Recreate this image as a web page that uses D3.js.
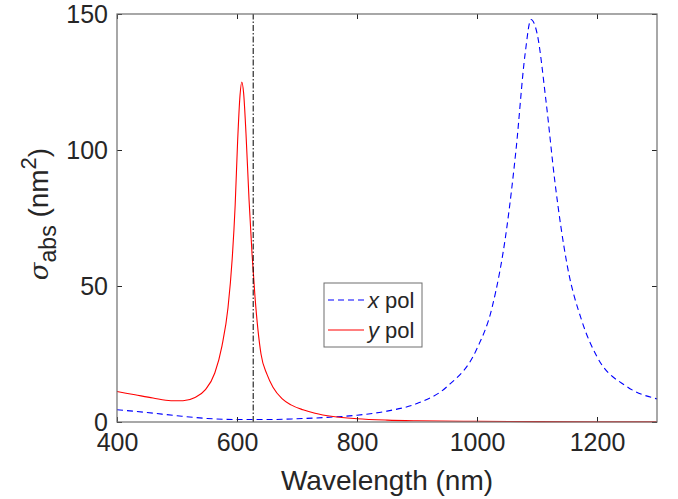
<!DOCTYPE html>
<html>
<head>
<meta charset="utf-8">
<script src="https://cdn.jsdelivr.net/npm/d3@7"></script>
<style>
  body { margin: 0; background: #fff; }
  text { font-family: "Liberation Sans", Arial, sans-serif; fill: #262626; }
</style>
</head>
<body>
<div id="chart"></div>
<script>
// données
const wavelengthX = [400, 450, 500, 550, 600, 650, 700, 750, 800, 850, 900, 950, 1000, 1025, 1050, 1065, 1080, 1090, 1100, 1115, 1130, 1150, 1175, 1200, 1250, 1300];
const xPol = [4.5, 3.5, 2.3, 1.3, 0.9, 0.9, 1.2, 1.7, 2.5, 4.0, 6.8, 13, 27, 42, 72, 100, 135, 148, 143, 118, 88, 58, 37, 24, 13, 8.5];

const wavelengthY = [400, 430, 460, 490, 510, 530, 547, 563, 575, 585, 592, 597, 601, 605, 608, 611, 615, 620, 625, 630, 640, 650, 660, 675, 690, 710, 730, 760, 800, 850, 900, 1000, 1100, 1200, 1300];
const yPol = [11.2, 10.0, 8.8, 7.8, 7.8, 9.0, 11.8, 18, 28, 42, 60, 80, 103, 120, 125, 121, 106, 82, 62, 46, 25, 17.5, 12.8, 8.6, 6.3, 4.5, 3.2, 2.0, 1.2, 0.7, 0.45, 0.25, 0.15, 0.1, 0.07];

const markerWavelength = 627;
const xTicks = [400, 600, 800, 1000, 1200];
const yTicks = [0, 50, 100, 150];

const width = 678;
const height = 499;
const margin = { top: 14, right: 21, bottom: 77, left: 117 };

const svg = d3.select("#chart")
    .append("svg")
    .attr("width", width)
    .attr("height", height);

const x = d3.scaleLinear()
    .domain([400, 1300])
    .range([margin.left, width - margin.right]);

const y = d3.scaleLinear()
    .domain([0, 150])
    .range([height - margin.bottom, margin.top]);

// courbes
const line = d3.line()
    .x(d => x(d[0]))
    .y(d => y(d[1]))
    .curve(d3.curveMonotoneX);

svg.append("path")
    .datum(wavelengthX.map((w, i) => [w, xPol[i]]))
    .attr("d", line)
    .attr("fill", "none")
    .attr("stroke", "#0000ff")
    .attr("stroke-width", 1.1)
    .attr("stroke-dasharray", "6,4");

svg.append("path")
    .datum(wavelengthY.map((w, i) => [w, yPol[i]]))
    .attr("d", line)
    .attr("fill", "none")
    .attr("stroke", "#ff0000")
    .attr("stroke-width", 1.1);

// ligne verticale pointillée
svg.append("line")
    .attr("x1", x(markerWavelength))
    .attr("x2", x(markerWavelength))
    .attr("y1", y(0))
    .attr("y2", y(150))
    .attr("stroke", "#000")
    .attr("stroke-width", 1)
    .attr("stroke-dasharray", "6,2,1.5,2");

// axes (style boîte)
const tickSize = 5;
const axisColor = "#262626";
const fmt = d3.format("d");

svg.append("g")
    .attr("transform", `translate(0,${y(0)})`)
    .call(d3.axisBottom(x).tickValues(xTicks).tickFormat(fmt).tickSizeInner(-tickSize).tickSizeOuter(0).tickPadding(11))
    .call(g => g.select(".domain").remove())
    .call(g => g.selectAll("line").attr("stroke", axisColor))
    .call(g => g.selectAll("text").attr("font-size", "25px").attr("fill", "#262626").attr("font-family", "Liberation Sans, Arial, sans-serif"));

svg.append("g")
    .attr("transform", `translate(0,${y(150)})`)
    .call(d3.axisTop(x).tickValues(xTicks).tickSizeInner(-tickSize).tickSizeOuter(0).tickFormat(""))
    .call(g => g.select(".domain").remove())
    .call(g => g.selectAll("line").attr("stroke", axisColor));

svg.append("g")
    .attr("transform", `translate(${x(400)},0)`)
    .call(d3.axisLeft(y).tickValues(yTicks).tickFormat(fmt).tickSizeInner(-tickSize).tickSizeOuter(0).tickPadding(9))
    .call(g => g.select(".domain").remove())
    .call(g => g.selectAll("line").attr("stroke", axisColor))
    .call(g => g.selectAll("text").attr("font-size", "25px").attr("fill", "#262626").attr("font-family", "Liberation Sans, Arial, sans-serif"));

svg.append("g")
    .attr("transform", `translate(${x(1300)},0)`)
    .call(d3.axisRight(y).tickValues(yTicks).tickSizeInner(-tickSize).tickSizeOuter(0).tickFormat(""))
    .call(g => g.select(".domain").remove())
    .call(g => g.selectAll("line").attr("stroke", axisColor));

// cadre
svg.append("rect")
    .attr("x", x(400))
    .attr("y", y(150))
    .attr("width", x(1300) - x(400))
    .attr("height", y(0) - y(150))
    .attr("fill", "none")
    .attr("stroke", "#6e6e6e")
    .attr("stroke-width", 1.2);

// titre axe X
svg.append("text")
    .attr("x", (x(400) + x(1300)) / 2)
    .attr("y", 490)
    .attr("text-anchor", "middle")
    .attr("font-size", "28px")
    .text("Wavelength (nm)");

// titre axe Y
const ylab = svg.append("text")
    .attr("transform", `translate(48,${(y(0) + y(150)) / 2 - 4}) rotate(-90)`)
    .attr("text-anchor", "middle")
    .attr("font-size", "28px");
ylab.append("tspan").attr("font-style", "italic").attr("font-family", "DejaVu Serif, serif").attr("font-size", "26px").text("σ");
ylab.append("tspan").attr("font-size", "23px").attr("dy", 8).text("abs");
ylab.append("tspan").attr("dy", -8).text("  (nm");
ylab.append("tspan").attr("font-size", "22px").attr("dy", -12).text("2");
ylab.append("tspan").attr("dy", 12).text(")");

// légende
const legend = svg.append("g");
legend.append("rect")
    .attr("x", 324).attr("y", 283)
    .attr("width", 98).attr("height", 64)
    .attr("fill", "#fff")
    .attr("stroke", "#6e6e6e")
    .attr("stroke-width", 1);

const legendItems = [
    { label: "x", color: "#0000ff", dash: "6,4" },
    { label: "y", color: "#ff0000", dash: null }
];
legendItems.forEach((d, i) => {
    const cy = 300 + i * 30;
    legend.append("line")
        .attr("x1", 328).attr("x2", 364)
        .attr("y1", cy).attr("y2", cy)
        .attr("stroke", d.color)
        .attr("stroke-width", 1.1)
        .attr("stroke-dasharray", d.dash);
    const t = legend.append("text")
        .attr("x", 368).attr("y", cy + 8)
        .attr("font-size", "22px");
    t.append("tspan").attr("font-style", "italic").text(d.label);
    t.append("tspan").text(" pol");
});
</script>
</body>
</html>
